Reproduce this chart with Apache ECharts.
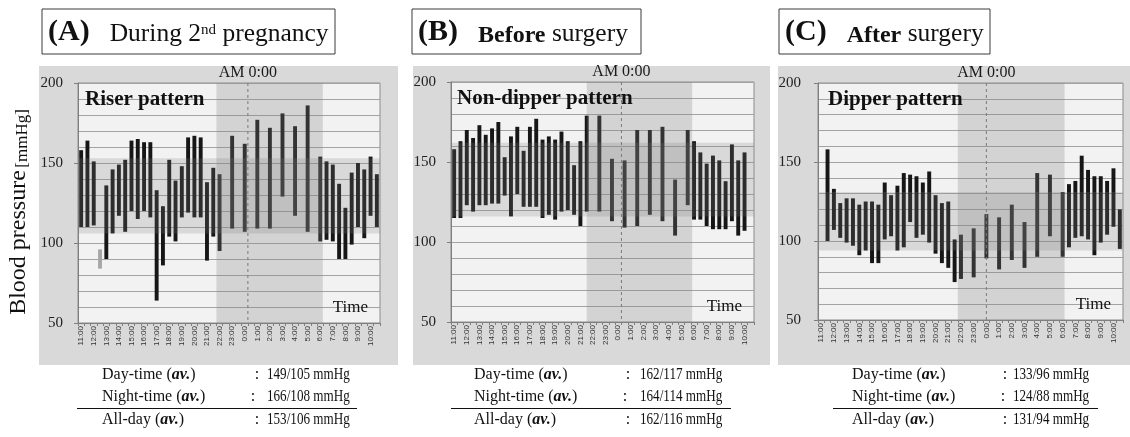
<!DOCTYPE html>
<html><head><meta charset="utf-8">
<script src="https://cdn.jsdelivr.net/npm/echarts@6/dist/echarts.min.js"></script>
<style>html,body{margin:0;padding:0;background:#fff}#c{width:1130px;height:437px}</style>
</head><body><div id="c"></div>
<script>
// half-hour slots on the x axis (labels shown every hour)
const slots = ['11:00','11:30','12:00','12:30','13:00','13:30','14:00','14:30','15:00','15:30','16:00','16:30','17:00','17:30','18:00','18:30','19:00','19:30','20:00','20:30','21:00','21:30','22:00','22:30','23:00','23:30','0:00','0:30','1:00','1:30','2:00','2:30','3:00','3:30','4:00','4:30','5:00','5:30','6:00','6:30','7:00','7:30','8:00','8:30','9:00','9:30','10:00','10:30'];
const yTicks = [50, 100, 150, 200];

// (A) During 2nd pregnancy
const aTimes = ['11:00','11:30','12:00','13:00','13:30','14:00','14:30','15:00','15:30','16:00','16:30','17:00','17:30','18:00','18:30','19:00','19:30','20:00','20:30','21:00','21:30','22:00','23:00','0:00','1:00','2:00','3:00','4:00','5:00','6:00','6:30','7:00','7:30','8:00','8:30','9:00','9:30','10:00','10:30'];
const aSys = [158,164,151,136,146,149,152,164,165,163,163,133,123,152,139,148,166,167,166,138,147,143,167,162,177,172,181,173,186,154,151,149,137,122,144,150,146,154,143];
const aDia = [110,110,111,90,106,117,107,120,115,120,116,64,86,104,101,116,119,116,116,89,104,95,109,107,109,109,129,117,107,101,102,101,90,90,99,110,103,117,110];
const aGrayTimes = ['12:30'];
const aGraySys = [96];
const aGrayDia = [84];
const aBand = [106, 153];

// (B) Before surgery
const bTimes = ['11:00','11:30','12:00','12:30','13:00','13:30','14:00','14:30','15:00','15:30','16:00','16:30','17:00','17:30','18:00','18:30','19:00','19:30','20:00','20:30','21:00','21:30','22:30','23:30','0:30','1:30','2:30','3:30','4:30','5:30','6:00','6:30','7:00','7:30','8:00','8:30','9:00','9:30','10:00'];
const bSys = [158,163,170,165,173,167,171,175,153,166,172,157,172,177,164,166,164,169,163,148,163,179,179,152,151,170,170,172,139,170,163,156,149,154,151,138,161,151,156];
const bDia = [115,115,123,119,123,123,124,124,129,116,130,122,122,122,115,117,114,119,120,117,110,119,119,113,109,110,117,113,104,123,114,114,110,108,108,108,113,104,107];
const bBand = [116, 162];

// (C) After surgery
const cTimes = ['11:30','12:00','12:30','13:00','13:30','14:00','14:30','15:00','15:30','16:00','16:30','17:00','17:30','18:00','18:30','19:00','19:30','20:00','20:30','21:00','21:30','22:00','23:00','0:00','1:00','2:00','3:00','4:00','5:00','6:00','6:30','7:00','7:30','8:00','8:30','9:00','9:30','10:00','10:30'];
const cSys = [158,133,124,127,127,123,125,125,123,137,129,135,143,142,141,137,144,129,124,125,101,104,108,117,115,123,112,143,142,131,136,138,154,145,141,141,138,146,120];
const cDia = [100,107,102,99,97,91,94,86,86,101,103,94,96,112,102,104,99,92,86,83,74,76,77,89,82,88,83,90,103,90,96,102,103,101,91,99,104,109,95];
const cBand = [94, 131];

const summaryLabels = ['Day-time', 'Night-time', 'All-day'];
const aSummary = ['149/105 mmHg', '166/108 mmHg', '153/106 mmHg'];
const bSummary = ['162/117 mmHg', '164/114 mmHg', '162/116 mmHg'];
const cSummary = ['133/96 mmHg', '124/88 mmHg', '131/94 mmHg'];

const SERIF = '"Liberation Serif", "Times New Roman", serif';

const panels = [
  {grid:{left:78, top:83, width:302, height:240}, times:aTimes, sys:aSys, dia:aDia, band:aBand,
   night:[21.5, 38.4], midnight:26.5, pattern:'Riser pattern', patDx:7, labelMargin:15,
   bg:[39,66,359,299], box:[42,9,293,45], tag:'(A)', boxText:'{n|During 2}{s|nd}{n| pregnancy}',
   sum:aSummary, sx:102, colon:[257,253,257], vx:267, ul:[77,357]},
  {grid:{left:451, top:82, width:303, height:240}, times:bTimes, sys:bSys, dia:bDia, band:bBand,
   night:[21.0, 37.7], midnight:26.5, pattern:'Non-dipper pattern', patDx:6, labelMargin:15,
   bg:[413,66,357,299], box:[412,9,229,45], tag:'(B)', boxText:'{nb|Before}{n| surgery}',
   sum:bSummary, sx:474, colon:[628,625,628], vx:640, ul:[451,731]},
  {grid:{left:818, top:83, width:305, height:237}, times:cTimes, sys:cSys, dia:cDia, band:cBand,
   night:[21.5, 38.3], midnight:26.0, pattern:'Dipper pattern', patDx:10, labelMargin:17,
   bg:[778,66,352,299], box:[779,9,211,45], tag:'(C)', boxText:'{nb|After}{n| surgery}',
   sum:cSummary, sx:852, colon:[1005,1003,1005], vx:1013, ul:[833,1098]}
];

const grids = [], xAxes = [], yAxes = [], series = [], graphics = [];

function barRender(color) {
  return function (params, api) {
    const idx = api.value(0);
    const top = api.coord([idx, api.value(2)]);
    const bot = api.coord([idx, api.value(1)]);
    const w = api.size([1, 0])[0] * 0.62;
    return {type:'rect', shape:{x:top[0]-w/2, y:top[1], width:w, height:bot[1]-top[1]}, style:{fill:color}};
  };
}

function overlayRender(p) {
  return function (params, api) {
    const cs = params.coordSys;
    const c0 = api.coord([0, 200]);
    const bw = api.size([1, 0])[0];
    const xAt = i => c0[0] + i * bw;
    const yHi = api.coord([0, p.band[1]])[1];
    const yLo = api.coord([0, p.band[0]])[1];
    const xm = xAt(p.midnight);
    return {type:'group', children:[
      {type:'rect', shape:{x:xAt(p.night[0]), y:cs.y, width:xAt(p.night[1])-xAt(p.night[0]), height:cs.height}, style:{fill:'rgba(128,128,128,0.27)'}},
      {type:'rect', shape:{x:cs.x, y:yHi, width:cs.width, height:yLo-yHi}, style:{fill:'rgba(128,128,128,0.22)'}},
      {type:'line', shape:{x1:xm, y1:cs.y, x2:xm, y2:cs.y+cs.height}, style:{stroke:'#7a7a7a', lineWidth:1, lineDash:[3,3]}},
      {type:'text', style:{text:'AM 0:00', x:xm, y:cs.y-10, textAlign:'center', textVerticalAlign:'middle', font:'16px ' + SERIF, fill:'#1a1a1a'}},
      {type:'text', style:{text:p.pattern, x:cs.x+p.patDx, y:cs.y+17, textAlign:'left', textVerticalAlign:'middle', font:'bold 21px ' + SERIF, fill:'#111'}},
      {type:'text', style:{text:'Time', x:cs.x+cs.width-12, y:cs.y+cs.height-15, textAlign:'right', textVerticalAlign:'middle', font:'17px ' + SERIF, fill:'#111'}}
    ]};
  };
}

panels.forEach((p, k) => {
  grids.push(Object.assign({show:true, backgroundColor:'#f2f2f2', borderColor:'#8c8c8c', borderWidth:1}, p.grid));
  xAxes.push({type:'category', gridIndex:k, data:slots, boundaryGap:true,
    axisLine:{lineStyle:{color:'#7f7f7f'}},
    axisTick:{show:true, interval:0, length:3, lineStyle:{color:'#7f7f7f'}},
    axisLabel:{interval:1, rotate:90, margin:3, fontSize:8, fontFamily:'"Liberation Sans", Arial, sans-serif', color:'#333'},
    splitLine:{show:false}});
  yAxes.push({type:'value', gridIndex:k, min:yTicks[0], max:yTicks[yTicks.length-1], interval:50,
    axisLine:{show:true, lineStyle:{color:'#7f7f7f'}},
    axisTick:{show:true, length:4, lineStyle:{color:'#7f7f7f'}},
    axisLabel:{fontSize:15, fontFamily:SERIF, color:'#222', margin:p.labelMargin},
    splitLine:{show:true, lineStyle:{color:'#a3a3a3', width:1}},
    minorTick:{show:false, splitNumber:5},
    minorSplitLine:{show:true, lineStyle:{color:'#a3a3a3', width:1}}});
  series.push({type:'custom', xAxisIndex:k, yAxisIndex:k, z:2, silent:true,
    renderItem:barRender('#161616'), encode:{x:0, y:[1,2]},
    data:p.times.map((t,i) => [t, p.dia[i], p.sys[i]])});
  if (k === 0) {
    series.push({type:'custom', xAxisIndex:k, yAxisIndex:k, z:2, silent:true,
      renderItem:barRender('#a6a6a6'), encode:{x:0, y:[1,2]},
      data:aGrayTimes.map((t,i) => [t, aGrayDia[i], aGraySys[i]])});
  }
  series.push({type:'custom', xAxisIndex:k, yAxisIndex:k, z:5, silent:true,
    renderItem:overlayRender(p), encode:{x:0, y:1}, data:[[0, 100]]});

  // panel background
  graphics.push({type:'rect', z:-100, shape:{x:p.bg[0], y:p.bg[1], width:p.bg[2], height:p.bg[3]}, style:{fill:'#d9d9d9'}});
  // title box
  graphics.push({type:'rect', shape:{x:p.box[0], y:p.box[1], width:p.box[2], height:p.box[3]}, style:{fill:'#fff', stroke:'#3a3a3a', lineWidth:1}});
  graphics.push({type:'text', x:p.box[0]+6, y:p.box[1]+p.box[3]/2+1,
    style:{text:'{t|' + p.tag + '}{g| }' + p.boxText, textVerticalAlign:'middle', textAlign:'left',
      rich:{
        t:{fontFamily:SERIF, fontWeight:'bold', fontSize:30, fill:'#111', verticalAlign:'bottom'},
        g:{fontFamily:SERIF, fontSize:20, width:20, fill:'#111', verticalAlign:'bottom'},
        n:{fontFamily:SERIF, fontSize:25.5, fill:'#111', verticalAlign:'bottom'},
        nb:{fontFamily:SERIF, fontWeight:'bold', fontSize:24, fill:'#111', verticalAlign:'bottom'},
        s:{fontFamily:SERIF, fontSize:15, fill:'#111', verticalAlign:'top', padding:[5,0,0,0]}
      }}});
  // summary
  const rowsY = [375, 397, 420];
  p.sum.forEach((v, r) => {
    graphics.push({type:'text', x:p.sx, y:rowsY[r], style:{text:'{r|' + summaryLabels[r] + ' (}{b|av.}{r|)}', textVerticalAlign:'middle', textAlign:'left',
      rich:{r:{fontFamily:SERIF, fontSize:16, fill:'#111'}, b:{fontFamily:SERIF, fontSize:16, fontWeight:'bold', fontStyle:'italic', fill:'#111'}}}});
    graphics.push({type:'text', x:p.colon[r], y:rowsY[r], style:{text:':', textVerticalAlign:'middle', textAlign:'center', font:'16px ' + SERIF, fill:'#111'}});
    graphics.push({type:'text', x:p.vx, y:rowsY[r], scaleX:0.82, originX:0, originY:0,
      style:{text:v, textVerticalAlign:'middle', textAlign:'left', font:'16px ' + SERIF, fill:'#111'}});
  });
  graphics.push({type:'line', shape:{x1:p.ul[0], y1:408.5, x2:p.ul[1], y2:408.5}, style:{stroke:'#111', lineWidth:1}});
});

// y-axis title
graphics.push({type:'text', x:19, y:212, rotation:Math.PI/2,
  style:{text:'{a|Blood pressure}{g| }{b|[mmHg]}', textAlign:'center', textVerticalAlign:'middle',
    rich:{a:{fontFamily:SERIF, fontSize:24, fill:'#111', verticalAlign:'bottom'}, g:{fontSize:10, fontFamily:SERIF}, b:{fontFamily:SERIF, fontSize:17, fill:'#111', verticalAlign:'bottom'}}}});

const chart = echarts.init(document.getElementById('c'), null, {renderer:'canvas'});
chart.setOption({
  backgroundColor:'#ffffff',
  animation:false,
  grid:grids, xAxis:xAxes, yAxis:yAxes, series:series,
  graphic:{elements:graphics}
});
</script></body></html>
